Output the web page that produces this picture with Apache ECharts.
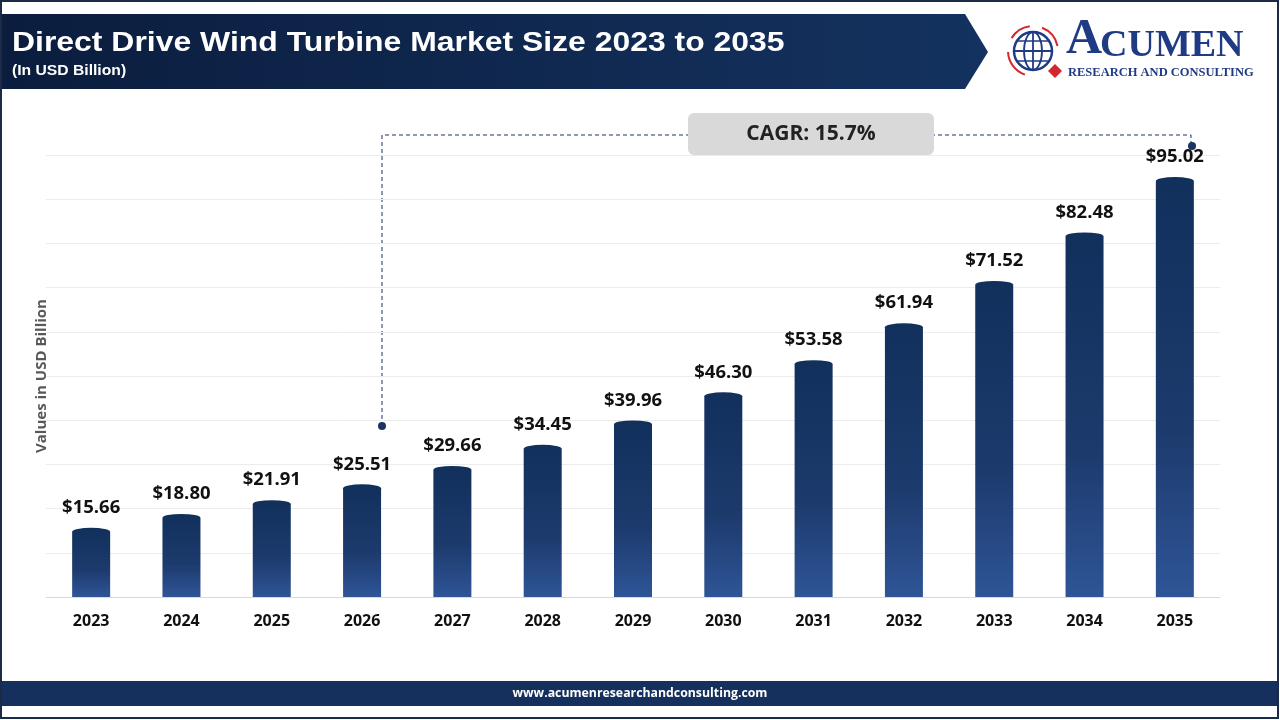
<!DOCTYPE html>
<html>
<head>
<meta charset="utf-8">
<title>Direct Drive Wind Turbine Market Size</title>
<script src="https://cdn.jsdelivr.net/npm/echarts@6/dist/echarts.min.js"></script>
<style>
  html, body { margin: 0; padding: 0; background: #fff; }
  #main { width: 1280px; height: 720px; }
</style>
</head>
<body>
<div id="main"></div>
<script>
var years = ['2023', '2024', '2025', '2026', '2027', '2028', '2029', '2030', '2031', '2032', '2033', '2034', '2035'];
var marketSize = [15.66, 18.80, 21.91, 25.51, 29.66, 34.45, 39.96, 46.30, 53.58, 61.94, 71.52, 82.48, 95.02];
var cagrText = 'CAGR: 15.7%';

var myChart = echarts.init(document.getElementById('main'));

var barFill = new echarts.graphic.LinearGradient(0, 0, 0, 1, [
    { offset: 0, color: '#12305c' },
    { offset: 0.6, color: '#1c3a6c' },
    { offset: 1, color: '#2f5597' }
]);

// bar with a flat elliptical cap on top
function renderBar(params, api) {
    var top = api.coord([api.value(0), api.value(1)]);
    var base = api.coord([api.value(0), 0]);
    var w = 38, h = 4;
    var l = top[0] - w / 2, r = top[0] + w / 2, y = top[1];
    var d = 'M' + l + ',' + base[1] + ' L' + l + ',' + (y + h) +
        ' A' + (w / 2) + ',' + h + ',0,0,1,' + r + ',' + (y + h) +
        ' L' + r + ',' + base[1] + ' Z';
    return {
        type: 'group',
        children: [
            { type: 'path', shape: { pathData: d }, style: { fill: barFill } },
            {
                type: 'text',
                style: {
                    text: '$' + api.value(1).toFixed(2),
                    x: top[0], y: y - 20,
                    align: 'center', verticalAlign: 'middle',
                    font: 'bold 18.5px "Open Sans"', fill: '#111'
                }
            }
        ]
    };
}

var navy = '#1f3b84', red = '#d3262e';

option = {
    backgroundColor: '#fff',
    animation: false,
    grid: { left: 46, right: 60, top: 155, bottom: 123 },
    xAxis: {
        type: 'category',
        data: years,
        axisLine: { lineStyle: { color: '#d9d9d9', width: 1 } },
        axisTick: { show: false },
        axisLabel: { margin: 16, color: '#111', fontSize: 16, fontWeight: 'bold', fontFamily: 'Open Sans' }
    },
    yAxis: {
        type: 'value',
        min: 0, max: 100, interval: 10,
        name: 'Values in USD Billion',
        nameLocation: 'middle',
        nameGap: -3,
        nameTextStyle: { color: '#595959', fontSize: 15, fontWeight: 'bold', fontFamily: 'Open Sans' },
        axisLabel: { show: false },
        axisLine: { show: false },
        axisTick: { show: false },
        splitLine: { lineStyle: { color: '#ececec' } }
    },
    series: [{
        type: 'custom',
        renderItem: renderBar,
        encode: { x: 0, y: 1 },
        data: marketSize.map(function (v, i) { return [i, v]; }),
        z: 3
    }],
    graphic: [
        // outer frame
        { type: 'rect', shape: { x: 1, y: 1, width: 1277, height: 717 }, style: { fill: 'none', stroke: '#1b2b45', lineWidth: 2 }, z: 10 },
        // header banner
        {
            type: 'polygon',
            shape: { points: [[0, 14], [965, 14], [988, 52], [965, 89], [0, 89]] },
            style: { fill: new echarts.graphic.LinearGradient(0, 0, 1, 0, [{ offset: 0, color: '#0b1d3e' }, { offset: 1, color: '#14325f' }]) }
        },
        { type: 'text', x: 12, y: 43, scaleX: 1.14, style: { text: 'Direct Drive Wind Turbine Market Size 2023 to 2035', verticalAlign: 'middle', font: 'bold 28px "Liberation Sans"', fill: '#fff' } },
        { type: 'text', x: 12, y: 71, scaleX: 1.12, style: { text: '(In USD Billion)', verticalAlign: 'middle', font: 'bold 14px "Liberation Sans"', fill: '#fff' } },
        // logo
        { type: 'circle', shape: { cx: 1033, cy: 51, r: 19 }, style: { fill: '#fff', stroke: navy, lineWidth: 2.5 } },
        { type: 'ellipse', shape: { cx: 1033, cy: 51, rx: 9, ry: 19 }, style: { fill: 'none', stroke: navy, lineWidth: 1.8 } },
        { type: 'line', shape: { x1: 1033, y1: 32, x2: 1033, y2: 70 }, style: { stroke: navy, lineWidth: 1.8 } },
        { type: 'line', shape: { x1: 1014, y1: 51, x2: 1052, y2: 51 }, style: { stroke: navy, lineWidth: 1.8 } },
        { type: 'line', shape: { x1: 1017, y1: 41, x2: 1049, y2: 41 }, style: { stroke: navy, lineWidth: 1.5 } },
        { type: 'line', shape: { x1: 1017, y1: 61, x2: 1049, y2: 61 }, style: { stroke: navy, lineWidth: 1.5 } },
        { type: 'arc', shape: { cx: 1033, cy: 51, r: 25, startAngle: -2.6, endAngle: -1.7 }, style: { fill: 'none', stroke: red, lineWidth: 2 } },
        { type: 'arc', shape: { cx: 1033, cy: 51, r: 25, startAngle: -1.2, endAngle: -0.2 }, style: { fill: 'none', stroke: red, lineWidth: 2 } },
        { type: 'arc', shape: { cx: 1033, cy: 51, r: 25, startAngle: 1.9, endAngle: 3.1 }, style: { fill: 'none', stroke: red, lineWidth: 2 } },
        { type: 'polygon', shape: { points: [[1055, 64], [1062, 71], [1055, 78], [1048, 71]] }, style: { fill: red } },
        { type: 'text', x: 1066, y: 65, style: { text: 'A', verticalAlign: 'bottom', font: 'bold 50px "Liberation Serif"', fill: navy } },
        { type: 'text', x: 1100, y: 65, style: { text: 'CUMEN', verticalAlign: 'bottom', font: 'bold 38px "Liberation Serif"', fill: navy } },
        { type: 'text', x: 1068, y: 73, style: { text: 'RESEARCH AND CONSULTING', verticalAlign: 'middle', font: 'bold 12.5px "Liberation Serif"', fill: navy } },
        // CAGR connector
        {
            type: 'polyline',
            shape: { points: [[382, 426], [382, 135], [1191, 135], [1191, 143]] },
            style: { fill: 'none', stroke: '#1b3560', lineWidth: 1, lineDash: [4, 3] }
        },
        { type: 'circle', shape: { cx: 382, cy: 426, r: 4 }, style: { fill: '#1b3560' } },
        { type: 'circle', shape: { cx: 1192, cy: 146, r: 4 }, style: { fill: '#1b3560' } },
        { type: 'rect', shape: { x: 688, y: 113, width: 246, height: 42, r: 6 }, style: { fill: '#d9d9d9' } },
        { type: 'text', x: 811, y: 134, style: { text: cagrText, align: 'center', verticalAlign: 'middle', font: 'bold 21px "Open Sans"', fill: '#222' } },
        // footer
        { type: 'rect', shape: { x: 0, y: 681, width: 1278, height: 25 }, style: { fill: '#15305c' } },
        { type: 'text', x: 640, y: 693, style: { text: 'www.acumenresearchandconsulting.com', align: 'center', verticalAlign: 'middle', font: 'bold 12.3px "Open Sans"', fill: '#fff' } }
    ]
};

myChart.setOption(option);
</script>
</body>
</html>
